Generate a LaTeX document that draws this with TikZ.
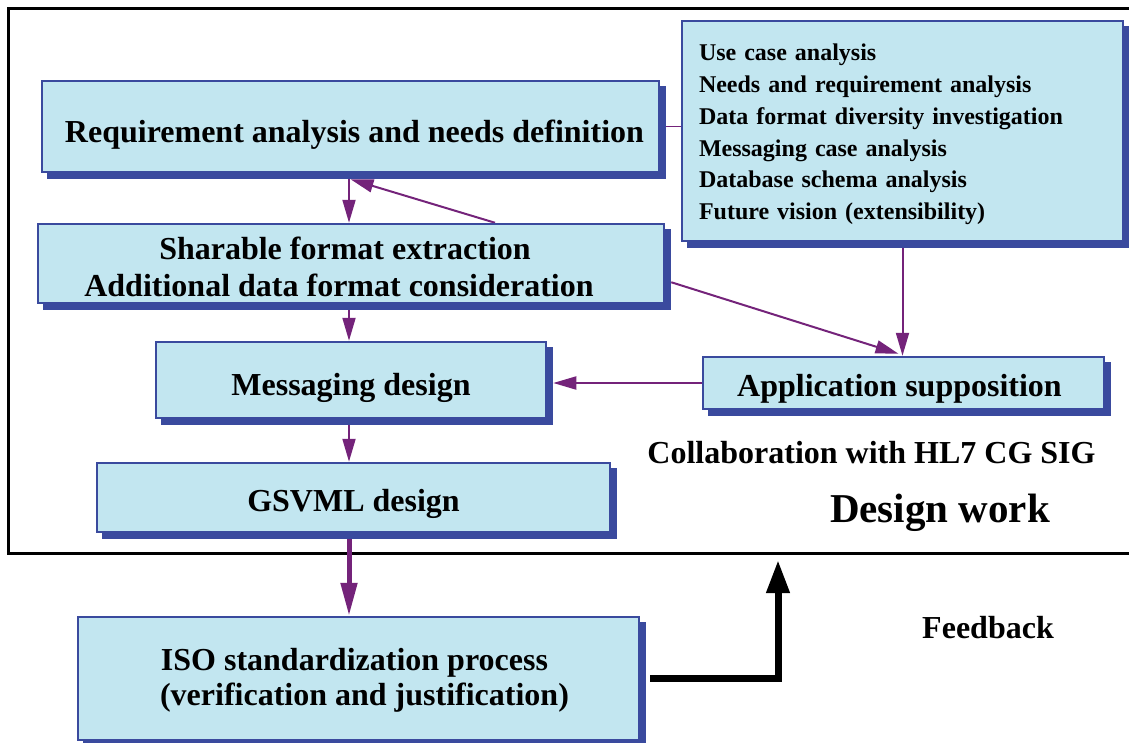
\documentclass[tikz,border=0pt]{standalone}
\usepackage{fontspec}
\setmainfont{Liberation Serif}
\usetikzlibrary{arrows.meta,shadows,calc}
\definecolor{boxfill}{HTML}{C2E6F0}
\definecolor{boxline}{HTML}{3A4A9E}
\definecolor{arrowpurple}{HTML}{74237A}
\pgfdeclarelayer{bg}
\pgfsetlayers{bg,main}
\begin{document}
\begin{tikzpicture}[x=1pt,y=-1pt,
  box/.style={draw=boxline, line width=2.5pt, fill=boxfill, inner sep=0pt,
    font=\fontsize{32}{37}\selectfont\bfseries, align=center,
    copy shadow={shadow xshift=6pt, shadow yshift=-6pt, fill=boxline, draw=boxline}},
  lowered/.style={text height=#1, text depth=0pt},
  parr/.style={draw=arrowpurple, line width=2pt, -{Triangle[length=23pt,width=13pt]}},
  pline/.style={draw=arrowpurple, line width=1.6pt},
  plaintext/.style={font=\fontsize{32}{38}\selectfont\bfseries, inner sep=0pt}]
\useasboundingbox (0,0) rectangle (1129,742);
\clip (0,0) rectangle (1129,742);

\node[box, minimum width=617pt, minimum height=91pt, lowered=31pt] (b1) at (350.5,126.5) {\hspace*{8pt}Requirement analysis and needs definition};
\node[box, minimum width=626pt, minimum height=79pt, lowered=66pt] (b2) at (351,263.5) {Sharable format extraction\hspace*{12pt}\\Additional data format consideration\hspace*{24pt}};
\node[box, minimum width=390pt, minimum height=76pt, lowered=30pt] (b3) at (351,380) {Messaging design};
\node[box, minimum width=513pt, minimum height=69pt, lowered=28pt] (b4) at (353.5,497.5) {GSVML design};
\node[box, minimum width=561pt, minimum height=123pt, font=\fontsize{32}{35}\selectfont\bfseries, lowered=54pt] (iso) at (358.5,678.5) {ISO standardization process\hspace*{8pt}\\\hspace*{12pt}(verification and justification)};
\node[box, text width=407pt, inner xsep=17pt, minimum height=220pt, align=left,
  font=\fontsize{24}{31.8}\selectfont\bfseries] (rb) at (902.5,131) {\rule{0pt}{23.5pt}Use case analysis\\Needs and requirement analysis\\Data format diversity investigation\\Messaging case analysis\\Database schema analysis\\Future vision (extensibility)};
\node[box, minimum width=401pt, minimum height=52pt, lowered=26pt] (app) at (903.5,383) {Application supposition\hspace*{8pt}};

\node[plaintext] (collab) at (871.5,453) {Collaboration with HL7 CG SIG};
\node[plaintext, font=\fontsize{41}{48}\selectfont\bfseries] (dw) at (940,513) {Design work};
\node[plaintext] (fbt) at (988,628) {Feedback};

\begin{pgfonlayer}{bg}
\draw[line width=3pt] (8,8) rectangle (1140,553);
\coordinate (ax) at (349,0);
\coordinate (bx) at (495,0);
\draw[parr] (b1.south -| ax) -- (b2.north -| ax);
\draw[parr] (b2.north -| bx) -- ($(b1.south)+(0,6)$);
\draw[pline] (b1.east) -- (b1.east -| rb.west);
\draw[parr] (rb.south) -- (rb.south |- app.north);
\draw[parr] ($(b2.south east)+(6,-22)$) -- ($(app.north)+(-5,-2)$);
\coordinate (b3s) at ($(b3.east)+(6,0)$);
\draw[parr] (app.west) -- (app.west -| b3s);
\draw[parr] (b2.south -| ax) -- (b3.north -| ax);
\draw[parr] (b3.south -| ax) -- (b4.north -| ax);
\draw[arrowpurple, line width=5pt, -{Triangle[length=33pt,width=16pt]}] (b4.south -| ax) -- (iso.north -| ax);
\coordinate (fb) at (778,560);
\draw[line width=7pt, line join=miter, -{Triangle[length=33pt,width=22pt]}] ($(iso.east)+(10,0)$) -| (fb);
\end{pgfonlayer}
\end{tikzpicture}
\end{document}
